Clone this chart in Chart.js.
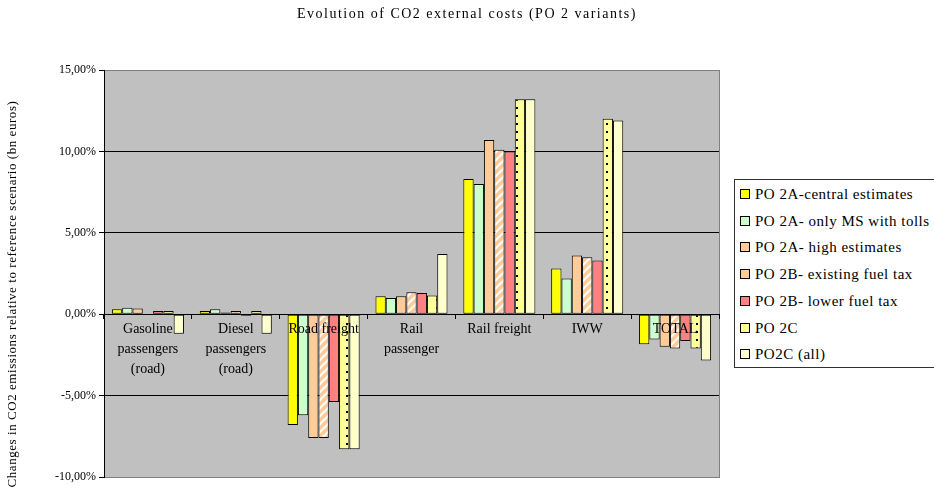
<!DOCTYPE html>
<html>
<head>
<meta charset="utf-8">
<script src="https://cdn.jsdelivr.net/npm/chart.js@4.4.1/dist/chart.umd.min.js"></script>
<style>
  body { margin: 0; background: #fff; }
  #wrap { position: relative; width: 934px; height: 495px; }
  #legend {
    position: absolute; left: 734px; top: 179px; width: 214px; height: 189px;
    border: 1px solid #303030; background: #fff; box-sizing: border-box;
    font: 15px "Liberation Serif", "Times New Roman", serif; color: #000;
    letter-spacing: 0.5px;
  }
  .item { position: absolute; left: 5px; height: 20px; line-height: 20px; white-space: nowrap; }
  .sw { display: inline-block; width: 8px; height: 8px; border: 1px solid #000; margin-right: 5px; vertical-align: 0px; }
</style>
</head>
<body>
<div id="wrap">
  <canvas id="c" width="934" height="495"></canvas>
  <div id="legend"></div>
</div>
<script>
const categories = [
  ['Gasoline', 'passengers', '(road)'],
  ['Diesel', 'passengers', '(road)'],
  'Road freight',
  ['Rail', 'passenger'],
  'Rail freight',
  'IWW',
  'TOTAL'
];
const seriesNames = [
  'PO 2A-central estimates',
  'PO 2A- only MS with tolls',
  'PO 2A- high estimates',
  'PO 2B- existing fuel tax',
  'PO 2B- lower fuel tax',
  'PO 2C',
  'PO2C (all)'
];
const centralEstimates = [0.3, 0.2, -6.8, 1.1, 8.3, 2.8, -1.85];
const onlyMsWithTolls = [0.4, 0.3, -6.2, 1.0, 8.0, 2.2, -1.55];
const highEstimates = [0.35, 0.1, -7.6, 1.1, 10.7, 3.6, -2.0];
const existingFuelTax = [0.0, 0.2, -7.6, 1.35, 10.1, 3.5, -2.1];
const lowerFuelTax = [0.2, -0.1, -5.4, 1.3, 10.0, 3.3, -1.65];
const po2c = [0.2, 0.2, -8.3, 1.15, 13.2, 12.0, -2.1];
const po2cAll = [-1.2, -1.2, -8.3, 3.7, 13.2, 11.9, -2.85];
const yTicks = [-10, -5, 0, 5, 10, 15];

const swatchColors = ['#FFFF00', '#CCFFCC', '#FFCC99', '#FFCC99', '#FF8080', '#FFFF99', '#FFFFCC'];

function hatchPattern() {
  let cv = document.createElement('canvas');
  cv.width = 8; cv.height = 8;
  let g = cv.getContext('2d');
  g.fillStyle = '#FFCC99';
  g.fillRect(0, 0, 8, 8);
  g.strokeStyle = '#FFFFFF';
  g.lineWidth = 2;
  g.beginPath();
  g.moveTo(-2, 10); g.lineTo(10, -2);
  g.moveTo(-2, 2); g.lineTo(2, -2);
  g.moveTo(6, 10); g.lineTo(10, 6);
  g.stroke();
  return g.createPattern(cv, 'repeat');
}
function dotPattern() {
  let cv = document.createElement('canvas');
  cv.width = 10; cv.height = 8;
  let g = cv.getContext('2d');
  g.fillStyle = '#FFFF99';
  g.fillRect(0, 0, 10, 8);
  g.fillStyle = '#000';
  g.fillRect(6, 3, 2, 2);
  return g.createPattern(cv, 'repeat');
}

const fills = ['#FFFF00', '#CCFFCC', '#FFCC99', hatchPattern(), '#FF8080', dotPattern(), '#FFFFCC'];
const values = [centralEstimates, onlyMsWithTolls, highEstimates, existingFuelTax, lowerFuelTax, po2c, po2cAll];

const plotBg = {
  id: 'plotBg',
  beforeDraw(chart) {
    let a = chart.chartArea, ctx = chart.ctx;
    ctx.save();
    ctx.fillStyle = '#C0C0C0';
    ctx.fillRect(a.left, a.top, a.right - a.left, a.bottom - a.top);
    ctx.strokeStyle = '#808080';
    ctx.lineWidth = 1;
    ctx.strokeRect(a.left + 0.5, a.top + 0.5, a.right - a.left, a.bottom - a.top);
    ctx.restore();
  }
};
// chart title and rotated y title, spaced out like the original
const texts = {
  id: 'texts',
  afterDraw(chart) {
    let ctx = chart.ctx;
    ctx.save();
    ctx.fillStyle = '#000';
    ctx.textAlign = 'center';
    ctx.textBaseline = 'middle';
    ctx.font = '14px "Liberation Serif"';
    ctx.letterSpacing = '1.5px';
    ctx.fillText('Evolution of CO2 external costs (PO 2 variants)', 467, 14);
    ctx.translate(13, 294);
    ctx.rotate(-Math.PI / 2);
    ctx.font = '13px "Liberation Serif"';
    ctx.letterSpacing = '0.55px';
    ctx.fillText('Changes in CO2 emissions relative to reference scenario (bn euros)', 0, 0);
    ctx.restore();
  }
};

const chart = new Chart(document.getElementById('c'), {
  type: 'bar',
  data: {
    labels: categories,
    datasets: seriesNames.map((name, i) => ({
      label: name,
      data: values[i],
      backgroundColor: fills[i],
      borderColor: '#000',
      borderWidth: 1,
      borderSkipped: false,
      categoryPercentage: 0.82,
      barPercentage: 1.0
    }))
  },
  options: {
    responsive: false,
    animation: false,
    layout: { padding: { left: 0, right: 215, bottom: 18, top: 70 } },
    plugins: {
      legend: { display: false },
      tooltip: { enabled: false },
      title: { display: false }
    },
    scales: {
      x: {
        position: { y: 0 },
        grid: { display: true, drawOnChartArea: false, drawTicks: true, tickLength: 4, color: '#000', offset: true, z: 1 },
        border: { display: true, color: '#000', width: 1, z: 1 },
        ticks: {
          z: 1,
          color: '#000', autoSkip: false, maxRotation: 0, padding: 1,
          font: { family: 'Liberation Serif', size: 14, lineHeight: '20px' }
        }
      },
      y: {
        min: -10, max: 15,
        afterFit(scale) { scale.width = 104; },
        afterBuildTicks(scale) { scale.ticks = yTicks.map(v => ({ value: v })); },
        grid: {
          color: ctx => (ctx.tick && (ctx.tick.value === 15 || ctx.tick.value === -10)) ? '#808080' : '#000',
          tickColor: '#000', tickLength: 5
        },
        border: { display: true, color: '#000' },
        ticks: {
          color: '#000', padding: 3,
          font: { family: 'Liberation Serif', size: 12 },
          callback: v => v.toFixed(2).replace('.', ',') + '%'
        }
      }
    }
  },
  plugins: [plotBg, texts]
});

// legend built from the chart's datasets
let legend = document.getElementById('legend');
chart.data.datasets.forEach((ds, i) => {
  let row = document.createElement('div');
  row.className = 'item';
  row.style.top = (4 + i * 26.7) + 'px';
  row.innerHTML = `<span class="sw" style="background:${swatchColors[i]}"></span>${ds.label}`;
  legend.appendChild(row);
});
</script>
</body>
</html>
